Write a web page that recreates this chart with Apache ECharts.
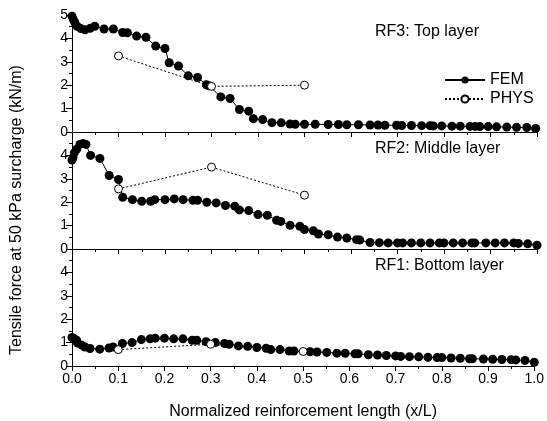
<!DOCTYPE html>
<html>
<head>
<meta charset="utf-8">
<script src="https://cdn.jsdelivr.net/npm/echarts@6/dist/echarts.min.js"></script>
<style>
  html, body { margin: 0; padding: 0; background: #fff; }
  #chart { width: 547px; height: 421px; }
</style>
</head>
<body>
<div id="chart"></div>
<script>
// panel labels, top to bottom
var panelNames = ['RF3: Top layer', 'RF2: Middle layer', 'RF1: Bottom layer'];
var xTicks = [0, 0.1, 0.2, 0.3, 0.4, 0.5, 0.6, 0.7, 0.8, 0.9, 1.0];
var yTicks = [0, 1, 2, 3, 4, 5];

// PHYS (physical model) measurements
var physX = [0.1, 0.3, 0.5];
var rf3Phys = [3.25, 1.95, 2.0];
var rf2Phys = [2.57, 3.5, 2.3];
var rf1Phys = [0.7, 0.93, 0.62];

// FEM results, top layer
var rf3X = [0, 0.003, 0.006, 0.011, 0.019, 0.028, 0.039, 0.049, 0.069, 0.089,
  0.109, 0.119, 0.139, 0.159, 0.18, 0.2, 0.209, 0.229, 0.25, 0.27,
  0.289, 0.294, 0.32, 0.34, 0.36, 0.38, 0.39, 0.41, 0.43, 0.45,
  0.469, 0.48, 0.5, 0.523, 0.551, 0.573, 0.591, 0.616, 0.641, 0.658,
  0.673, 0.698, 0.709, 0.73, 0.752, 0.77, 0.777, 0.795, 0.817, 0.835,
  0.856, 0.867, 0.877, 0.895, 0.913, 0.935, 0.956, 0.978, 0.997];
var rf3Fem = [4.95, 4.8, 4.68, 4.52, 4.42, 4.37, 4.43, 4.52, 4.4, 4.4,
  4.25, 4.24, 4.1, 4.05, 3.67, 3.57, 2.96, 2.82, 2.4, 2.33,
  2.02, 1.98, 1.5, 1.43, 0.96, 0.89, 0.57, 0.53, 0.4, 0.39,
  0.34, 0.33, 0.33, 0.33, 0.32, 0.32, 0.31, 0.31, 0.3, 0.3,
  0.29, 0.29, 0.28, 0.28, 0.27, 0.27, 0.26, 0.26, 0.25, 0.25,
  0.24, 0.24, 0.23, 0.23, 0.22, 0.21, 0.2, 0.19, 0.15];

// FEM results, middle layer
var rf2X = [0, 0.002, 0.005, 0.01, 0.017, 0.024, 0.03, 0.04, 0.06, 0.08,
  0.1, 0.109, 0.13, 0.15, 0.169, 0.178, 0.2, 0.22, 0.239, 0.26,
  0.27, 0.29, 0.31, 0.33, 0.35, 0.36, 0.38, 0.4, 0.42, 0.44,
  0.449, 0.469, 0.49, 0.5, 0.519, 0.53, 0.551, 0.571, 0.591, 0.612,
  0.619, 0.641, 0.661, 0.68, 0.7, 0.711, 0.73, 0.75, 0.77, 0.79,
  0.8, 0.82, 0.84, 0.86, 0.866, 0.89, 0.91, 0.93, 0.95, 0.96,
  0.98, 1.0];
var rf2Fem = [3.8, 3.9, 4.11, 4.26, 4.47, 4.51, 4.47, 4.0, 3.87, 3.14,
  2.97, 2.21, 2.11, 2.04, 2.04, 2.11, 2.11, 2.14, 2.11, 2.08,
  2.08, 2.0, 1.97, 1.86, 1.83, 1.67, 1.64, 1.47, 1.44, 1.23,
  1.18, 1.01, 0.97, 0.83, 0.78, 0.64, 0.61, 0.51, 0.47, 0.4,
  0.38, 0.28, 0.27, 0.26, 0.26, 0.26, 0.26, 0.26, 0.26, 0.26,
  0.26, 0.26, 0.26, 0.26, 0.26, 0.26, 0.26, 0.26, 0.26, 0.24,
  0.22, 0.16];

// FEM results, bottom layer
var rf1X = [0, 0.005, 0.01, 0.012, 0.021, 0.028, 0.039, 0.06, 0.08, 0.089,
  0.109, 0.13, 0.15, 0.169, 0.18, 0.2, 0.22, 0.24, 0.26, 0.27,
  0.29, 0.31, 0.33, 0.34, 0.36, 0.38, 0.4, 0.42, 0.43, 0.45,
  0.47, 0.48, 0.515, 0.53, 0.551, 0.573, 0.591, 0.612, 0.619, 0.641,
  0.661, 0.68, 0.7, 0.711, 0.73, 0.75, 0.77, 0.79, 0.8, 0.82,
  0.84, 0.86, 0.866, 0.89, 0.91, 0.93, 0.95, 0.96, 0.98, 1.0];
var rf1Fem = [1.22, 1.16, 1.1, 0.98, 0.89, 0.81, 0.75, 0.72, 0.77, 0.81,
  0.96, 1.0, 1.13, 1.16, 1.19, 1.19, 1.16, 1.16, 1.1, 1.1,
  1.04, 1.0, 0.96, 0.93, 0.86, 0.84, 0.79, 0.76, 0.7, 0.7,
  0.64, 0.64, 0.61, 0.6, 0.58, 0.55, 0.54, 0.52, 0.52, 0.48,
  0.47, 0.45, 0.43, 0.41, 0.4, 0.39, 0.37, 0.36, 0.36, 0.34,
  0.33, 0.31, 0.31, 0.3, 0.29, 0.28, 0.27, 0.26, 0.24, 0.16];

var font = 'Liberation Sans, Arial, sans-serif';
var gridTops = [15, 132, 249];

function pairs(xs, ys) {
  var out = [];
  for (var i = 0; i < xs.length; i++) out.push([xs[i], ys[i]]);
  return out;
}

var femSets = [pairs(rf3X, rf3Fem), pairs(rf2X, rf2Fem), pairs(rf1X, rf1Fem)];
var physSets = [pairs(physX, rf3Phys), pairs(physX, rf2Phys), pairs(physX, rf1Phys)];

var grids = [], xAxes = [], yAxes = [], series = [], texts = [];

for (var i = 0; i < 3; i++) {
  var last = (i === 2);
  grids.push({ left: 72, right: 10, top: gridTops[i], height: 117 });

  // bottom x axis
  xAxes.push({
    gridIndex: i, type: 'value', min: xTicks[0], max: xTicks[xTicks.length - 1], interval: 0.1,
    axisLine: { lineStyle: { color: '#000', width: 1 } },
    axisTick: { show: last, length: 5, lineStyle: { color: '#000' } },
    minorTick: { show: last, splitNumber: 2, length: 3, lineStyle: { color: '#000' } },
    axisLabel: {
      show: last, color: '#000', fontSize: 14, fontFamily: font, margin: 6,
      formatter: function (v) { return v.toFixed(1); }
    },
    splitLine: { show: false },
    name: last ? 'Normalized reinforcement length (x/L)' : '',
    nameLocation: 'middle', nameGap: 38,
    nameTextStyle: { color: '#000', fontSize: 16, fontFamily: font }
  });
  // top x axis (mirror)
  xAxes.push({
    gridIndex: i, type: 'value', position: 'top', min: 0, max: 1, interval: 0.1,
    axisLine: { lineStyle: { color: '#000', width: 1 } },
    axisTick: { inside: true, length: 5, lineStyle: { color: '#000' } },
    minorTick: { show: true, splitNumber: 2, length: 3, lineStyle: { color: '#000' } },
    axisLabel: { show: false },
    splitLine: { show: false }
  });
  // left y axis
  yAxes.push({
    gridIndex: i, type: 'value', min: yTicks[0], max: yTicks[yTicks.length - 1], interval: 1,
    axisLine: { show: true, lineStyle: { color: '#000', width: 1 } },
    axisTick: { show: true, length: 6, lineStyle: { color: '#000' } },
    minorTick: { show: true, splitNumber: 2, length: 3, lineStyle: { color: '#000' } },
    axisLabel: {
      color: '#000', fontSize: 14, fontFamily: font, margin: 4,
      formatter: (function (idx) {
        return function (v) { return (idx > 0 && v === 5) ? '' : String(v); };
      })(i)
    },
    splitLine: { show: false }
  });
  // right y axis (mirror)
  yAxes.push({
    gridIndex: i, type: 'value', position: 'right', min: 0, max: 5, interval: 1,
    axisLine: { show: true, lineStyle: { color: '#000', width: 1 } },
    axisTick: { show: true, inside: true, length: 5, lineStyle: { color: '#000' } },
    minorTick: { show: true, splitNumber: 2, length: 3, lineStyle: { color: '#000' } },
    axisLabel: { show: false },
    splitLine: { show: false }
  });

  series.push({
    name: 'FEM', type: 'line', xAxisIndex: i * 2, yAxisIndex: i * 2,
    data: femSets[i], symbol: 'circle', symbolSize: 9,
    itemStyle: { color: '#000' },
    lineStyle: { color: '#000', width: 1 },
    z: 2, animation: false
  });
  series.push({
    name: 'PHYS', type: 'line', xAxisIndex: i * 2, yAxisIndex: i * 2,
    data: physSets[i], symbol: 'circle', symbolSize: 8, showAllSymbol: true,
    itemStyle: { color: '#fff', borderColor: '#000', borderWidth: 1 },
    lineStyle: { color: '#000', width: 1, type: [2, 2] },
    z: 3, animation: false
  });

  texts.push({
    type: 'text', left: 375, top: gridTops[i] + 9,
    style: { text: panelNames[i], fill: '#000', font: '16px ' + font }
  });
}

texts.push({
  type: 'text', x: 17, y: 210, rotation: Math.PI / 2,
  style: {
    text: 'Tensile force at 50 kPa surcharge (kN/m)', fill: '#000',
    font: '16px ' + font, textAlign: 'center', textVerticalAlign: 'middle'
  }
});

var myChart = echarts.init(document.getElementById('chart'));
myChart.setOption({
  animation: false,
  backgroundColor: '#fff',
  grid: grids,
  xAxis: xAxes,
  yAxis: yAxes,
  legend: {
    data: ['FEM', 'PHYS'],
    orient: 'vertical', left: 439, top: 67,
    itemWidth: 40, itemHeight: 9, itemGap: 3,
    textStyle: { color: '#000', fontSize: 16, fontFamily: font }
  },
  graphic: texts,
  series: series
});
</script>
</body>
</html>
